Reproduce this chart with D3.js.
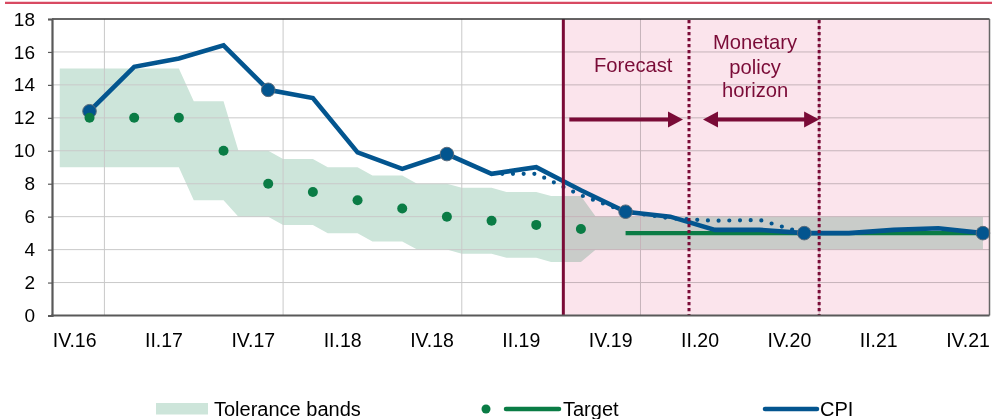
<!DOCTYPE html>
<html><head><meta charset="utf-8">
<script src="https://cdn.jsdelivr.net/npm/d3@7"></script>
<style>
html,body{margin:0;padding:0;background:#fff;}
svg{display:block;font-family:"Liberation Sans",Arial,sans-serif;}
</style></head><body>
<svg id="c" width="992" height="419"></svg>
<script>
// ---- data ----
const quarters = ["IV.16","I.17","II.17","III.17","IV.17","I.18","II.18","III.18","IV.18","I.19","II.19","III.19","IV.19","I.20","II.20","III.20","IV.20","I.21","II.21","III.21","IV.21"];
const cpi = [12.4,15.1,15.6,16.4,13.7,13.2,9.9,8.9,9.8,8.6,9.0,7.6,6.3,6.0,5.2,5.2,5.0,5.0,5.2,5.3,5.0];
const cpiPrevStart = 9;
const cpiPrev = [8.6,8.6,7.3,6.3,5.9,5.75,5.8,5.0];
const cpiMarkerIdx = [0,4,8,12,16,20];
const targetDots = [12,12,12,10,8,7.5,7,6.5,6,5.75,5.5,5.25];
const targetLineStart = 12;
const targetLine = [5,5,5,5,5,5,5,5,5];
const bandUpper = [15,15,15,13,10,9.5,9,8.5,8,7.75,7.5,7.25,6,6,6,6,6,6,6,6,6];
const bandLower = [9,9,9,7,6,5.5,5,4.5,4,3.75,3.5,3.25,4,4,4,4,4,4,4,4,4];
const xTickLabels = ["IV.16","II.17","IV.17","II.18","IV.18","II.19","IV.19","II.20","IV.20","II.21","IV.21"];
const yTicks = [0,2,4,6,8,10,12,14,16,18];
// events in months from Oct 2016
const forecastStart = 32.82, horizonStart = 41.26, horizonEnd = 50.0;

// ---- layout ----
const L = 52, T = 19, R = 989.5, B = 315.5;
const svg = d3.select("#c");
const x = d3.scaleLinear().domain([-1.52, 61.44]).range([L, R]);
const y = d3.scaleLinear().domain([0, 18]).range([B, T]);
const qm = i => 3 * i + 1; // month of quarter point

const C = {blue:"#03558f", green:"#0a7c45", band:"#cde5da", pink:"#fbe4ec", maroon:"#7a0b37", grid:"#c9c9c9"};

// top red rule
svg.append("line").attr("x1",5).attr("x2",992).attr("y1",2.8).attr("y2",2.8)
  .attr("stroke","#d84a62").attr("stroke-width",2.2);

// tolerance band
const bandPts = [];
bandUpper.forEach((u,i)=>{ bandPts.push({m:qm(i)-2,u,l:bandLower[i]}); bandPts.push({m:qm(i),u,l:bandLower[i]}); });
svg.append("path").datum(bandPts)
  .attr("d", d3.area().x(d=>x(d.m)).y0(d=>y(d.l)).y1(d=>y(d.u)))
  .attr("fill", C.band);

// grid
const g = svg.append("g");
yTicks.filter(v=>v>0 && v<18).forEach(v=>{
  g.append("line").attr("x1",L).attr("x2",R).attr("y1",y(v)).attr("y2",y(v)).attr("stroke",C.grid).attr("stroke-width",1);
});
[2,14,26,38,50].forEach(m=>{
  g.append("line").attr("x1",x(m)).attr("x2",x(m)).attr("y1",T).attr("y2",B).attr("stroke",C.grid).attr("stroke-width",1);
});

// pink forecast area
svg.append("rect").attr("x",x(forecastStart)).attr("y",T).attr("width",R-x(forecastStart)).attr("height",B-T)
  .attr("fill",C.pink).style("mix-blend-mode","multiply");

// previous CPI forecast (dotted)
const line = d3.line().x(d=>x(qm(d.i))).y(d=>y(d.v));
svg.append("path").datum(cpiPrev.map((v,k)=>({i:cpiPrevStart+k,v})))
  .attr("d",line).attr("fill","none").attr("stroke",C.blue).attr("stroke-width",4.2)
  .attr("stroke-linecap","round").attr("stroke-dasharray","0 10.7");

// target line
svg.append("path").datum(targetLine.map((v,k)=>({i:targetLineStart+k,v})))
  .attr("d",line).attr("fill","none").attr("stroke",C.green).attr("stroke-width",4.2);

// CPI
svg.append("path").datum(cpi.map((v,i)=>({i,v})))
  .attr("d",line).attr("fill","none").attr("stroke",C.blue).attr("stroke-width",4.6).attr("stroke-linejoin","miter");

// vertical event lines
svg.append("line").attr("x1",x(forecastStart)).attr("x2",x(forecastStart)).attr("y1",T).attr("y2",B)
  .attr("stroke",C.maroon).attr("stroke-width",3);
[horizonStart,horizonEnd].forEach(m=>{
  svg.append("line").attr("x1",x(m)).attr("x2",x(m)).attr("y1",T+1).attr("y2",B)
    .attr("stroke",C.maroon).attr("stroke-width",3).attr("stroke-dasharray","3.3 2.7");
});

// CPI markers
svg.selectAll("circle.cm").data(cpiMarkerIdx).join("circle").attr("class","cm")
  .attr("cx",i=>x(qm(i))).attr("cy",i=>y(cpi[i])).attr("r",6.8)
  .attr("fill",C.blue).attr("stroke","#5b6b7b").attr("stroke-width",1);

// target dots
svg.selectAll("circle.td").data(targetDots).join("circle").attr("class","td")
  .attr("cx",(v,i)=>x(qm(i))).attr("cy",v=>y(v)).attr("r",5).attr("fill",C.green);

// arrows
const ay = 119.5;
function head(xt, dir){ // dir: +1 points right, -1 points left
  svg.append("path").attr("d",`M${xt},${ay} L${xt-dir*15},${ay-8} L${xt-dir*15},${ay+8} Z`).attr("fill",C.maroon);
}
const fx1 = x(forecastStart)+6, fx2 = x(horizonStart)-6;
svg.append("line").attr("x1",fx1).attr("x2",fx2-12).attr("y1",ay).attr("y2",ay).attr("stroke",C.maroon).attr("stroke-width",4);
head(fx2,1);
const hx1 = x(horizonStart)+14, hx2 = x(horizonEnd);
svg.append("line").attr("x1",hx1+12).attr("x2",hx2-12).attr("y1",ay).attr("y2",ay).attr("stroke",C.maroon).attr("stroke-width",4);
head(hx1,-1); head(hx2,1);

// annotation text
const ann = svg.append("g").attr("fill",C.maroon).attr("font-size",20.2).attr("text-anchor","middle");
ann.append("text").attr("x",(x(forecastStart)+x(horizonStart))/2+7).attr("y",71.5).text("Forecast");
[["Monetary",49.3],["policy",73.5],["horizon",97.3]].forEach(([t,yy])=>{
  ann.append("text").attr("x",(x(horizonStart)+x(horizonEnd))/2+1).attr("y",yy).text(t);
});

// frame / axes
svg.append("line").attr("x1",L).attr("x2",R).attr("y1",T).attr("y2",T).attr("stroke","#333").attr("stroke-width",1.5);
svg.append("line").attr("x1",R).attr("x2",R).attr("y1",T).attr("y2",B).attr("stroke","#666").attr("stroke-width",1.5);
const ya = svg.append("g").attr("transform",`translate(${L},0)`)
  .call(d3.axisLeft(y).tickValues(yTicks).tickSize(4).tickPadding(13).tickFormat(d3.format("d")));
ya.select(".domain").attr("stroke","#595959").attr("stroke-width",2.2);
ya.selectAll(".tick line").attr("stroke","#595959").attr("stroke-width",1.2);
ya.selectAll("text").attr("font-size",19).attr("font-family","Liberation Sans, Arial, sans-serif").attr("fill","#000");
svg.append("line").attr("x1",L-1).attr("x2",R).attr("y1",B).attr("y2",B).attr("stroke","#595959").attr("stroke-width",2.2);

svg.append("g").selectAll("text").data(xTickLabels).join("text")
  .attr("x",(d,k)=>x(6*k)).attr("y",346.5).attr("text-anchor","middle").attr("font-size",19.5).attr("fill","#000").text(d=>d);

// legend
const lg = svg.append("g").attr("font-size",20).attr("fill","#000");
lg.append("rect").attr("x",156).attr("y",403).attr("width",52).attr("height",11.5).attr("fill",C.band);
lg.append("text").attr("x",214).attr("y",415.5).text("Tolerance bands");
lg.append("circle").attr("cx",486).attr("cy",409).attr("r",4.5).attr("fill",C.green);
lg.append("line").attr("x1",506).attr("x2",559).attr("y1",409).attr("y2",409).attr("stroke",C.green).attr("stroke-width",4.5).attr("stroke-linecap","round");
lg.append("text").attr("x",563).attr("y",415.5).text("Target");
lg.append("line").attr("x1",765).attr("x2",817).attr("y1",409).attr("y2",409).attr("stroke",C.blue).attr("stroke-width",4.5).attr("stroke-linecap","round");
lg.append("text").attr("x",820).attr("y",415.5).text("CPI");
</script>
</body></html>
